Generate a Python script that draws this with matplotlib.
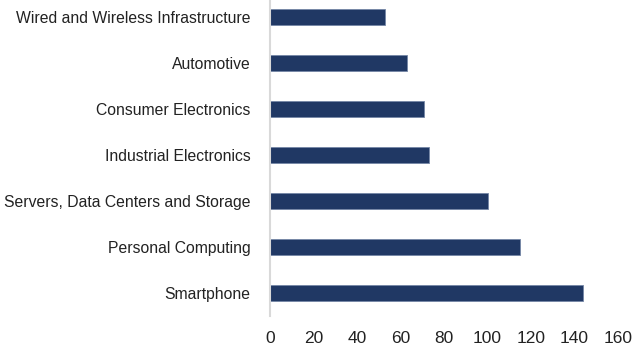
import matplotlib
matplotlib.use("Agg")
import matplotlib.pyplot as plt

categories = [
    "Smartphone",
    "Personal Computing",
    "Servers, Data Centers and Storage",
    "Industrial Electronics",
    "Consumer Electronics",
    "Automotive",
    "Wired and Wireless Infrastructure",
]
values = [144, 115, 100, 73, 71, 63, 53]
xticks = [0, 20, 40, 60, 80, 100, 120, 140, 160]

plt.rcParams["font.family"] = ["Liberation Sans", "DejaVu Sans"]

W, H = 635, 349
fig = plt.figure(figsize=(W / 100, H / 100), dpi=100)

# axes box in pixel units (left, top, right, bottom)
left_px, right_px = 270, 618
top_px, bottom_px = 0, 316
ax = fig.add_axes([left_px / W, 1 - bottom_px / H,
                   (right_px - left_px) / W, (bottom_px - top_px) / H])

pos = list(range(len(categories)))
ax.barh(pos, values, height=0.35, color="#203864",
        edgecolor="#7486a6", linewidth=0.6)

ax.set_xlim(0, 160)
ax.set_ylim(-0.5, 6 + 17 / 46)
ax.set_xticks(xticks)
ax.set_xticklabels([str(t) for t in xticks], fontsize=12.5, color="#222222")
ax.set_yticks(pos)
ax.set_yticklabels(categories, fontsize=11.3, color="#222222")

ax.tick_params(axis="x", length=0, pad=11)
ax.tick_params(axis="y", length=0, pad=14)

for side in ("top", "right", "bottom"):
    ax.spines[side].set_visible(False)
ax.spines["left"].set_color("#d9d9d9")
ax.spines["left"].set_linewidth(1.5)

fig.savefig("out.png", dpi=100)
